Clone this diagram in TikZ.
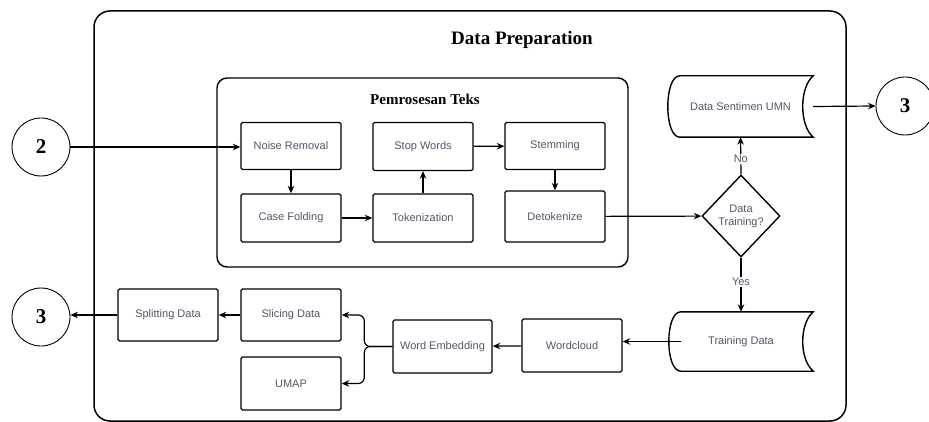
\documentclass[tikz,border=0pt]{standalone}
\usepackage{fontspec}
\setmainfont{Liberation Serif}
\setsansfont{Liberation Sans}
\usetikzlibrary{shapes.geometric,arrows.meta,calc}
\definecolor{txtgray}{RGB}{85,85,105}
\tikzset{
  >={Stealth[length=7.5pt,width=6.5pt]},
  conn/.style={->,line width=1.2pt},
  stepbox/.style={draw,rounded corners=1.5pt,line width=1.4pt,minimum width=100pt,
    minimum height=48pt,inner sep=0pt,text=txtgray,font=\sffamily\fontsize{11}{13}\selectfont},
  storebox/.style={draw=none,minimum width=145pt,minimum height=60pt,inner sep=0pt,
    text=txtgray,font=\sffamily\fontsize{11}{13}\selectfont},
  storeline/.style={line width=1.4pt},
  connector/.style={circle,draw,line width=0.9pt,minimum size=58pt,inner sep=0pt,
    font=\bfseries\fontsize{21}{24}\selectfont},
  decision/.style={diamond,draw,line width=1.4pt,minimum width=78pt,minimum height=82pt,
    inner sep=0pt,align=center,text=txtgray,font=\sffamily\fontsize{11}{13}\selectfont},
  edgelabel/.style={fill=white,inner sep=1pt,text=txtgray,font=\sffamily\fontsize{11}{13}\selectfont},
}
\begin{document}
\begin{tikzpicture}[x=1pt,y=-1pt]
\useasboundingbox (0,0) rectangle (929,422);

% frames
\draw[line width=1.5pt,rounded corners=16pt] (94,11) rectangle (846,421);
\node[font=\bfseries\fontsize{19}{22}\selectfont] (title) at (522,40) {Data Preparation};
\draw[line width=1.4pt,rounded corners=10pt] (217,78) rectangle (628,267);
\node[font=\bfseries\fontsize{15}{18}\selectfont] (subtitle) at (425,99) {Pemrosesan Teks};

% connector circles
\node[connector] (c2) at (41,147) {2};
\node[connector] (c3a) at (905,106) {3};
\node[connector] (c3b) at (41,317) {3};

% text processing steps
\node[stepbox,minimum height=47pt] (nr) at (291,146) {Noise Removal};
\node[stepbox] (cf) at (291,218) {Case Folding};
\node[stepbox] (sw) at (423,146.5) {Stop Words};
\node[stepbox] (tk) at (423,218) {Tokenization};
\node[stepbox,minimum height=47pt] (st) at (555,146) {Stemming};
\node[stepbox,minimum height=51pt] (dt) at (555,216.5) {Detokenize};

% decision and stored data
\node[decision] (dia) at (741,216) {Data\\Training?};
\node[storebox,minimum height=61pt] (dsu) at (740.5,106.5) {Data Sentimen UMN};
\node[storebox,minimum width=144pt,minimum height=59pt] (td) at (741,341.5) {Training Data};
\foreach \s in {dsu,td}{
  \draw[storeline] ($(\s.north west)+(12,0)$) -- (\s.north east)
    .. controls +(-14,12) and +(-14,-12) .. (\s.south east)
    -- ($(\s.south west)+(12,0)$)
    .. controls +(-16,0) and +(-16,0) .. ($(\s.north west)+(12,0)$) -- cycle;
}

% lower row
\node[stepbox,minimum height=53pt] (wc) at (572,345.5) {Wordcloud};
\node[stepbox,minimum width=99pt,minimum height=53pt] (we) at (442.5,346.5) {Word Embedding};
\node[stepbox,minimum height=52pt] (sl) at (291,315) {Slicing Data};
\node[stepbox,minimum height=53pt] (um) at (291,383.5) {UMAP};
\node[stepbox,minimum height=52pt] (sd) at (168,315) {Splitting Data};

% flow
\draw[conn] (c2.east) -- (nr.west |- c2.east);
\draw[conn] (nr) -- (cf);
\draw[conn] (cf) -- (tk);
\draw[conn] (tk) -- (sw);
\draw[conn] (sw) -- (st);
\draw[conn] (st) -- (dt);
\draw[conn] (dt) -- (dia);
\draw[conn] (dia.north) -- node[edgelabel,pos=0.42]{No} (dsu.south);
\draw[conn] (dsu.east) -- (c3a.west);
\draw[conn] (dia.south) -- node[edgelabel,pos=0.45]{Yes} (td.north);
\draw[conn] ($(td.west)+(12,0)$) -- (td.west -| wc.east);
\draw[conn] (wc) -- (we);
\draw[conn,rounded corners=6pt] (we.west) -- ++(-28,0) |- (sl.east);
\draw[conn,rounded corners=6pt] (we.west) -- ++(-28,0) |- (um.east);
\draw[conn] (sl) -- (sd);
\draw[conn] (sd.west) -- (sd.west -| c3b.east);
\end{tikzpicture}
\end{document}
